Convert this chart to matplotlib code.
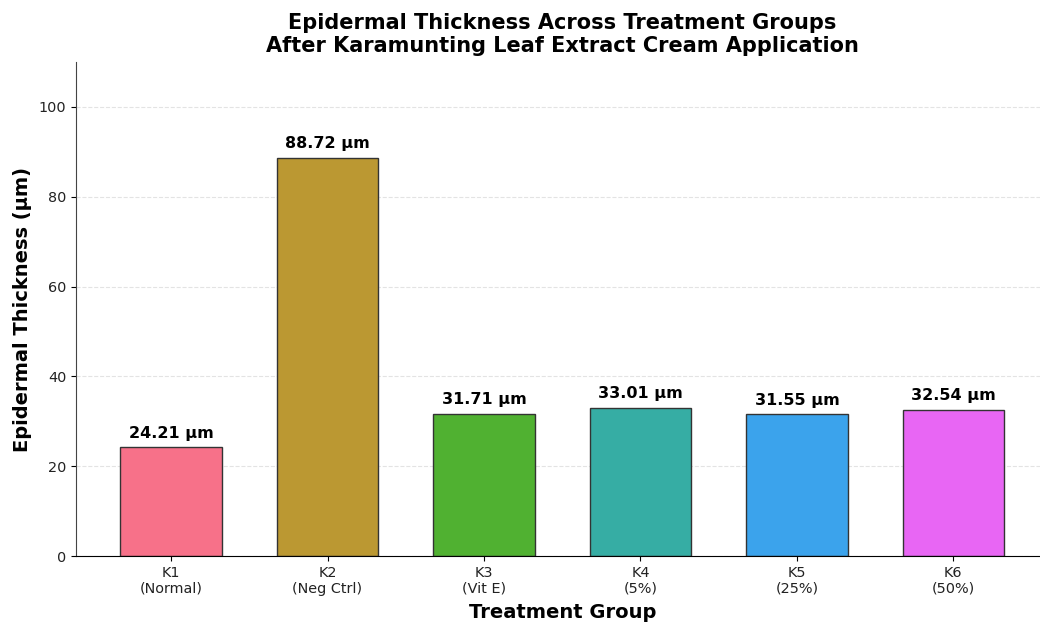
import matplotlib
matplotlib.use("Agg")
import matplotlib.pyplot as plt
import seaborn as sns
import numpy as np

groups = ["K1\n(Normal)", "K2\n(Neg Ctrl)", "K3\n(Vit E)", "K4\n(5%)", "K5\n(25%)", "K6\n(50%)"]
thickness = [24.21, 88.72, 31.71, 33.01, 31.55, 32.54]

colors = sns.color_palette("husl", len(groups))

fig = plt.figure(figsize=(10.4, 6.23), dpi=100)
ax = fig.add_axes([0.0731, 0.1075, 0.935, 0.793])

x = np.arange(len(groups))
bars = ax.bar(x, thickness, width=0.65, color=colors, edgecolor="#333333", linewidth=1.0)

for bar, val in zip(bars, thickness):
    ax.text(bar.get_x() + bar.get_width() / 2, val + 1.5, f"{val:.2f} µm",
            ha="center", va="bottom", fontsize=11.5, fontweight="bold")

ax.set_xticks(x)
ax.set_xticklabels(groups, fontsize=10.4, color="#222222")
ax.tick_params(axis="y", labelsize=10.4, labelcolor="#222222")
ax.set_ylim(0, 110)
ax.set_yticks([0, 20, 40, 60, 80, 100])

ax.set_xlabel("Treatment Group", fontsize=14, fontweight="bold", labelpad=5)
ax.set_ylabel("Epidermal Thickness (µm)", fontsize=14, fontweight="bold", labelpad=5)
ax.set_title("Epidermal Thickness Across Treatment Groups\nAfter Karamunting Leaf Extract Cream Application",
             fontsize=15, fontweight="bold", pad=7)

ax.yaxis.grid(True, linestyle="--", color="#dddddd", alpha=0.8)
ax.set_axisbelow(True)
ax.spines["top"].set_visible(False)
ax.spines["right"].set_visible(False)
ax.spines["left"].set_color("#444444")

fig.savefig("out.png", dpi=100)
